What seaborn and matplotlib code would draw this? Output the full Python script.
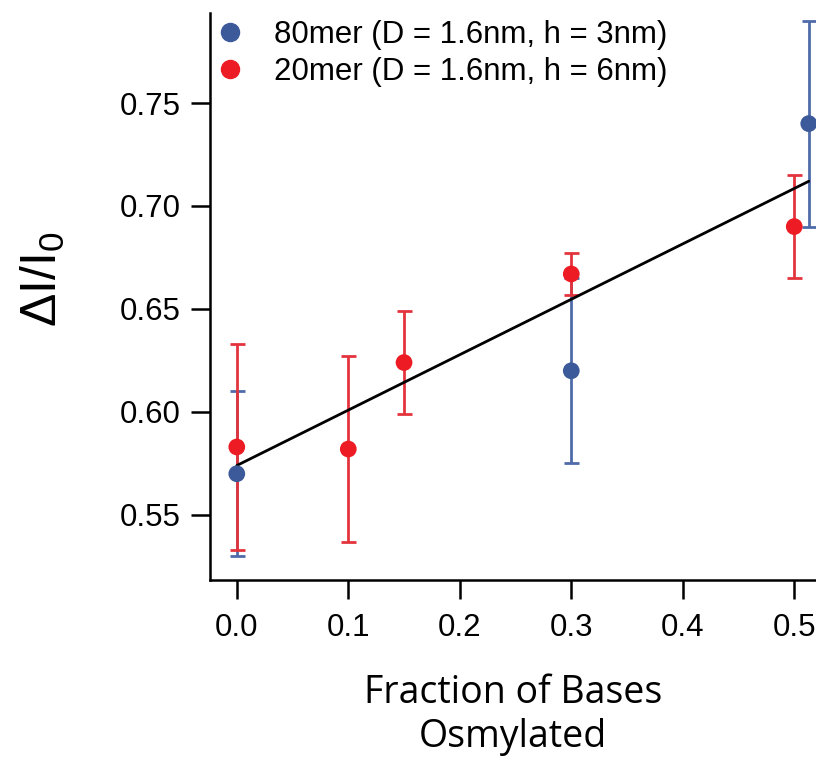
import pandas as pd
import seaborn as sns
import matplotlib.pyplot as plt

sns.set_style("ticks")
plt.rcParams['font.family'] = ['Liberation Sans', 'DejaVu Sans']
plt.rcParams['mathtext.fontset'] = 'custom'
plt.rcParams['mathtext.rm'] = 'Liberation Sans'
plt.rcParams['mathtext.default'] = 'regular'
plt.rcParams['text.color'] = 'black'
plt.rcParams['axes.labelcolor'] = 'black'

# 80mer 数据
x_80 = [0.0, 0.3, 0.513]
y_80 = [0.570, 0.620, 0.740]
err_80 = [0.040, 0.045, 0.050]

# 20mer 数据
x_20 = [0.0, 0.1, 0.15, 0.3, 0.5]
y_20 = [0.583, 0.582, 0.624, 0.667, 0.690]
err_20 = [0.050, 0.045, 0.025, 0.010, 0.025]

# 拟合直线
fit_x = [0.0, 0.513]
fit_y = [0.574, 0.712]

labels = ['80mer (D = 1.6nm, h = 3nm)', '20mer (D = 1.6nm, h = 6nm)']
colors = ['#3C5A9A', '#ED1C24']
err_colors = ['#4F6CAA', '#E3343D']

df = pd.concat([
    pd.DataFrame({'x': x_80, 'y': y_80, 'err': err_80, 'sample': labels[0]}),
    pd.DataFrame({'x': x_20, 'y': y_20, 'err': err_20, 'sample': labels[1]}),
], ignore_index=True)

fig = plt.figure(figsize=(8.16, 7.6), dpi=100)
ax = fig.add_axes([0.2574, 0.2368, 0.7426, 0.7461])

# 误差线
for lab, ec in zip(labels, err_colors):
    d = df[df['sample'] == lab]
    ax.errorbar(d['x'], d['y'], yerr=d['err'], fmt='none', ecolor=ec,
                elinewidth=2.0, capsize=5.4, capthick=2.0, zorder=2)

# 拟合线
sns.lineplot(x=fit_x, y=fit_y, color='black', linewidth=2.0, ax=ax, zorder=3)

# 数据点
sns.scatterplot(data=df, x='x', y='y', hue='sample', palette=colors,
                s=145, edgecolor='none', ax=ax, zorder=4, legend=False)

# 图例
handles = [plt.Line2D([], [], marker='o', linestyle='none', color=c,
                      markersize=13) for c in colors]
ax.legend(handles, labels, loc='upper left', bbox_to_anchor=(-0.018, 1.009),
          frameon=False, fontsize=22.5, handletextpad=0.8, labelspacing=0.2,
          handlelength=1.2, borderaxespad=0)

ax.set_xlim(-0.024, 0.5195)
ax.set_ylim(0.5184, 0.7937)
ax.set_xticks([0.0, 0.1, 0.2, 0.3, 0.4, 0.5])
ax.set_xticklabels(['0.0', '0.1', '0.2', '0.3', '0.4', '0.5'])
ax.set_yticks([0.55, 0.60, 0.65, 0.70, 0.75])
ax.set_yticklabels(['0.55', '0.60', '0.65', '0.70', '0.75'])

sns.despine(ax=ax)
for s in ['left', 'bottom']:
    ax.spines[s].set_linewidth(1.8)
    ax.spines[s].set_color('black')
ax.tick_params(axis='both', direction='out', length=14, width=1.8,
               labelsize=22.5, colors='black')
ax.tick_params(axis='x', pad=10)
ax.tick_params(axis='y', pad=7)

ax.set_xlabel('Fraction of Bases\nOsmylated', fontsize=27,
              family=['Open Sans', 'DejaVu Sans'], labelpad=22)
ax.set_ylabel('ΔI/I$_{0}$', fontsize=36, labelpad=38)
ax.yaxis.label.set_y(0.53)

fig.savefig('out.png', dpi=100)
